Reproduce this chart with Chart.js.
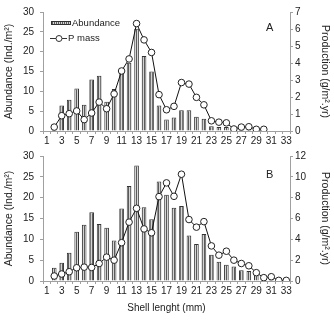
<!DOCTYPE html>
<html>
<head>
<meta charset="utf-8">
<script src="https://cdn.jsdelivr.net/npm/chart.js@4"></script>
<style>
  body { margin: 0; background: #fff; width: 334px; height: 320px; position: relative; overflow: hidden; }
  canvas { position: absolute; left: 0; }
  #chartA { top: 0; }
  #chartB { top: 144px; }
</style>
</head>
<body>
<canvas id="chartA" width="334" height="150"></canvas>
<canvas id="chartB" width="334" height="176"></canvas>
<script>
// shell length classes (mm)
const sizes = [1, 2, 3, 4, 5, 6, 7, 8, 9, 10, 11, 12, 13, 14, 15, 16, 17, 18, 19, 20, 21, 22, 23, 24, 25, 26, 27, 28, 29, 30, 31, 32, 33];

// panel A
const abundA = [0, 0.4, 6.4, 7.9, 10.7, 6.6, 13.0, 13.9, 7.4, 10.6, 14.8, 17.2, 25.8, 18.9, 15.0, 6.4, 2.9,
  3.4, 5.2, 5.2, 3.6, 3.1, 1.2, 1.0, 1.0, 0.6, 0.4, 0.4, 0.2, 0.1, 0, 0, 0];
const pmassA = [null, 0.23, 0.9, 1.02, 1.18, 0.67, 1.06, 1.7, 1.31, 2.18, 3.53, 4.24, 6.32, 5.36, 4.62, 2.14, 1.25,
  1.45, 2.85, 2.76, 1.98, 1.54, 0.6, 0.52, 0.48, 0.12, 0.23, 0.25, 0.1, 0.1, null, null, null];

// panel B
const abundB = [0, 3.2, 4.4, 6.8, 11.8, 13.5, 16.5, 13.7, 12.8, 9.7, 17.4, 22.8, 27.7, 17.7, 14.8, 23.9, 20.7,
  17.6, 18.0, 10.9, 8.9, 11.3, 6.3, 4.6, 3.9, 3.5, 2.6, 2.4, 1.4, 0.8, 0.6, 0.2, 0];
const pmassB = [null, 0.48, 0.67, 0.89, 1.27, 1.33, 1.3, 1.68, 2.29, 2.0, 3.68, 5.65, 6.98, 5.0, 4.63, 8.1, 9.42,
  8.13, 10.25, 5.9, 5.17, 5.7, 3.37, 2.48, 2.86, 2.0, 1.68, 1.46, 0.8, 0.32, 0.41, 0.06, 0.06];

const FONT = "'Liberation Sans', Arial, sans-serif";
const TXT = '#222';
const AXIS = '#a0a0a0';

// vertical hatch used by the bars
function stripes() {
  const c = document.createElement('canvas');
  c.width = 2; c.height = 2;
  const g = c.getContext('2d');
  g.fillStyle = '#d4d4d4';
  g.fillRect(0, 0, 2, 2);
  g.fillStyle = '#5a5a5a';
  g.fillRect(0, 0, 1, 2);
  return g.createPattern(c, 'repeat');
}
const hatch = stripes();

const extras = {
  id: 'extras',
  afterDraw(chart, args, opts) {
    const ctx = chart.ctx;
    ctx.save();
    ctx.fillStyle = TXT;
    ctx.textBaseline = 'middle';
    ctx.font = '11px ' + FONT;
    ctx.fillText(opts.letter, opts.lx, opts.ly);
    if (opts.legend) {
      ctx.font = '9.5px ' + FONT;
      // Abundance
      ctx.fillStyle = hatch;
      ctx.fillRect(51, 21, 20, 4);
      ctx.strokeStyle = '#333';
      ctx.lineWidth = 1;
      ctx.strokeRect(51.5, 21.5, 19, 3);
      ctx.fillStyle = TXT;
      ctx.fillText('Abundance', 72, 23);
      // P mass
      ctx.beginPath();
      ctx.moveTo(50, 38.5);
      ctx.lineTo(67, 38.5);
      ctx.stroke();
      ctx.beginPath();
      ctx.arc(59, 38.5, 3, 0, Math.PI * 2);
      ctx.fillStyle = '#fff';
      ctx.fill();
      ctx.stroke();
      ctx.fillStyle = TXT;
      ctx.fillText('P mass', 68, 38.5);
    }
    ctx.restore();
  }
};

function panel(id, abund, pmass, prodMax, prodStep, o) {
  return new Chart(document.getElementById(id), {
    type: 'bar',
    data: {
      labels: sizes,
      datasets: [
        {
          type: 'line',
          label: 'P mass',
          data: pmass,
          yAxisID: 'y2',
          borderColor: '#111',
          borderWidth: 1,
          pointRadius: 3.3,
          pointBorderWidth: 1,
          pointBackgroundColor: '#fff',
          pointBorderColor: '#222',
          tension: 0,
          order: 0
        },
        {
          label: 'Abundance',
          data: abund,
          yAxisID: 'y',
          backgroundColor: hatch,
          borderColor: '#333',
          borderWidth: 1,
          barPercentage: 0.62,
          categoryPercentage: 1,
          order: 1
        }
      ]
    },
    options: {
      responsive: false,
      animation: false,
      layout: { padding: { top: o.padTop, left: 0, right: 0, bottom: 0 } },
      plugins: {
        legend: { display: false },
        tooltip: { enabled: false },
        extras: { letter: o.letter, lx: o.lx, ly: o.ly, legend: o.legend }
      },
      scales: {
        x: {
          offset: true,
          grid: { drawOnChartArea: false, color: AXIS, tickLength: 3, offset: true },
          border: { color: AXIS },
          ticks: {
            autoSkip: false,
            maxRotation: 0,
            padding: 1,
            color: TXT,
            font: { family: FONT, size: 10 },
            callback: (v, i) => (sizes[i] % 2 === 1 ? String(sizes[i]) : '')
          },
          title: {
            display: o.xTitle,
            text: 'Shell lenght (mm)',
            color: TXT,
            font: { family: FONT, size: 10 },
            padding: { top: 0, bottom: 6 }
          },
          afterFit: s => { s.height = o.xHeight; }
        },
        y: {
          position: 'left',
          min: 0,
          max: 30,
          grid: { drawOnChartArea: false, color: AXIS, tickLength: 3 },
          border: { color: AXIS },
          ticks: { stepSize: 5, padding: 6, color: TXT, font: { family: FONT, size: 10 } },
          title: {
            display: true,
            text: 'Abundance (Ind./m²)',
            color: TXT,
            font: { family: FONT, size: 10.5 },
            padding: { top: 3, bottom: 0 }
          },
          afterFit: s => { s.width = 43; }
        },
        y2: {
          position: 'right',
          min: 0,
          max: prodMax,
          grid: { drawOnChartArea: false, color: AXIS, tickLength: 3 },
          border: { color: AXIS },
          ticks: { stepSize: prodStep, padding: 2, color: TXT, font: { family: FONT, size: 10 } },
          title: {
            display: true,
            text: 'Production (g/m².yr)',
            color: TXT,
            font: { family: FONT, size: 10.5 },
            padding: { top: 3, bottom: 0 }
          },
          afterFit: s => { s.width = 44; }
        }
      }
    },
    plugins: [extras]
  });
}

panel('chartA', abundA, pmassA, 7, 1, { padTop: 9, xHeight: 19, xTitle: false, letter: 'A', lx: 266, ly: 28, legend: true });
panel('chartB', abundB, pmassB, 12, 2, { padTop: 10, xHeight: 39, xTitle: true, letter: 'B', lx: 266, ly: 31, legend: false });
</script>
</body>
</html>
